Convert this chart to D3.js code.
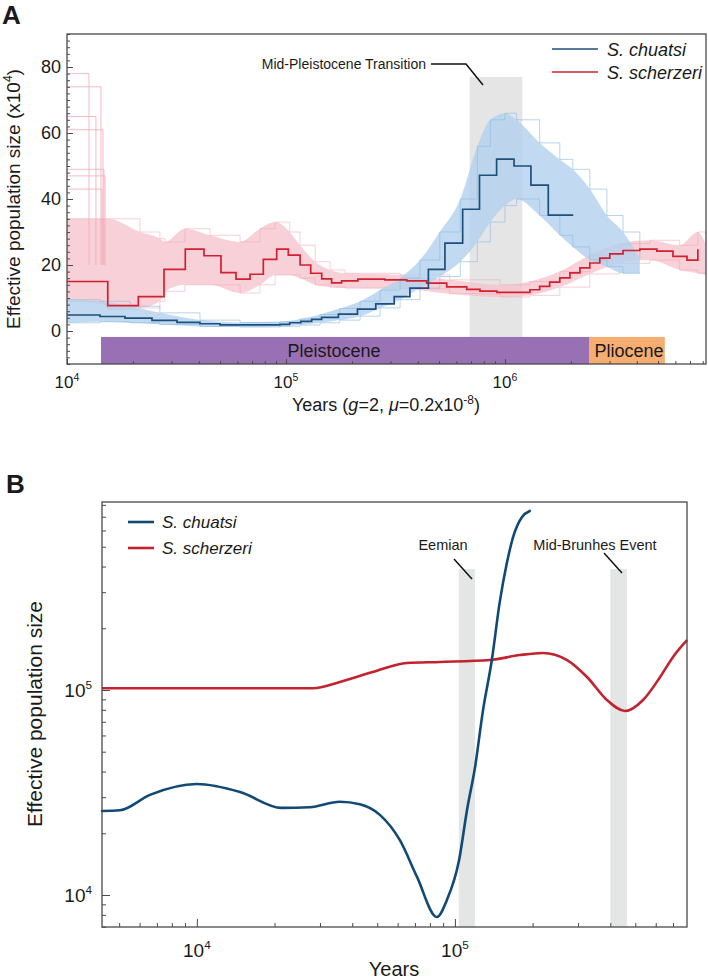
<!DOCTYPE html>
<html><head><meta charset="utf-8">
<script src="https://cdn.jsdelivr.net/npm/d3@7"></script>
<style>
body{margin:0;background:#fff}
svg{display:block}
text{font-family:"Liberation Sans",Arial,Helvetica,sans-serif;fill:#1a1a1a}
</style>
</head><body>
<svg id="c" width="708" height="980"></svg>
<script>
// ---------------- Panel A data (PSMC, Ne in x10^4) ----------------
const aRedYears = [10000,15350,21170,27730,34690,42230,50470,59110,68500,78800,90700,102500,116000,129700,145600,161600,179500,213000,283000,356000,439000,542000,669000,769000,919000,1300000,1440000,1600000,1780000,1980000,2200000,2440000,2710000,3010000,3460000,4130000,4940000,5850000,6780000,7600000];
const aRedNe    = [15,7.7,10.4,18.7,24.8,22.8,17.7,15.7,17.2,21.7,24.8,23,20,17.5,15.8,14.6,15.2,15.7,15.5,15.2,14.5,13.4,12.6,12.1,11.7,12.5,13.5,14.8,16.1,17.6,19.1,20.6,22.1,23.4,24.4,24.8,24.2,22.6,21.5,24.8];
const aBlueYears = [10000,14150,18400,24440,31790,40480,49950,93900,104000,117000,131000,145500,173500,212000,257000,312000,368000,447000,532000,641000,765000,916000,1100000,1314000,1577000,2050000];
const aBlueNe    = [4.85,4.4,3.9,3.2,2.6,2.2,1.85,2.0,2.5,2.9,3.5,4.15,5.1,6.6,8.2,10.4,13.0,18.7,26.6,36.9,47.2,52.1,50.0,44.2,35.1,35.1];

// bootstrap envelopes
const pinkYears = [10000,14750,15390,21540,26560,28000,34560,45000,61700,76000,89200,104000,115800,136000,159000,186000,332000,559000,950000,1300000,1780000,2440000,3340000,4590000,6280000,7600000,8280000];
const pinkUpper = [34,34,34,30,28,27,31,29,27,31,33,30,26,21,18.5,17.5,17,15.5,14,15,18,23,26.5,27.5,26,30,26];
const pinkLower = [9,8,6.5,7,9,12,14,14,11.5,14,17,17,16,14,13.3,13,12.8,11.3,10.3,10.8,13.3,17.3,20.5,21.5,18.5,17.5,17];
const pinkSpikeNe  = [78,74,65,61,49,47,43];
const pinkSpikeEnd = [12600,14290,13560,14600,14750,14920,14450];

const blueYears = [10000,14150,19400,26560,40480,61700,93900,115800,143000,176000,218000,269000,332000,409000,504000,625000,748000,857000,1000000,1130000,1440000,1780000,2040000,2440000,2920000,3460000,4130000];
const blueUpper = [9.5,9,7.5,5.5,3.3,2.6,2.8,3.6,5,6.8,9,12.4,16,21.5,30,40,56,64,66,64,57,52,49,43,35,30,22];
const blueLower = [2.5,2.8,2.5,2.0,1.4,1.2,1.4,1.8,2.5,3.3,4.5,7,9.5,13,16.5,21,27,33,38,40,35,29,25.5,21.5,19.5,17.5,17.5];

const aEpochs = [{name:"Pleistocene", from:14300, to:2420000, color:"#9a70b4"},
                 {name:"Pliocene", from:2420000, to:5370000, color:"#f5ad72"}];
const aMPT = [690000, 1200000];

const aXTicks = [1e4,1e5,1e6];
const aYTicks = [0,20,40,60,80];

// ---------------- Panel B data (SMC++) ----------------
const bBlueYears = [4290,5030,6580,10000,14700,21300,27400,35800,42800,51200,61200,71300,85100,93100,103800,111400,119700,128500,139000,149000,159000,168000,182000,195000];
const bBlueNe    = [25700,25900,30800,34800,31800,26600,26800,28500,27700,24600,18500,12250,7810,9460,14800,26000,42100,79800,140000,266000,417000,557000,698000,747000];
const bRedYears = [4290,28200,35800,48000,65200,87500,136700,178700,219000,272000,325000,388000,456000,536000,624000,700000,793000];
const bRedNe    = [102000,102000,109400,122400,135500,137000,140000,148000,151500,140000,115700,89400,79000,89400,115700,145000,175000];
const bBands = [{name:"Eemian", from:103600, to:119500}, {name:"Mid-Brunhes Event", from:400000, to:464000}];
const bXTicks = [1e4,1e5];
const bYTicks = [1e4,1e5];

const species = ["S. chuatsi","S. scherzeri"];

// ---------------- drawing ----------------
const svg = d3.select("#c");
const FRAME = "#4a4a4a";

function supText(g, x, y, base, exp, size, anchor){
  const t = g.append("text").attr("x",x).attr("y",y).attr("font-size",size).attr("text-anchor",anchor||"middle");
  t.append("tspan").text(base);
  t.append("tspan").attr("dy",-size*0.42).attr("font-size",size*0.62).text(exp);
  return t;
}

// ===== Panel A =====
const ax = d3.scaleLog().domain([1e4, 8.28e6]).range([67, 706]);
const ay = d3.scaleLinear().domain([-10, 90]).range([364, 34]);
const A = svg.append("g");

A.append("text").attr("x",2).attr("y",24).attr("font-size",26).attr("font-weight","bold").text("A");

// MPT band
A.append("rect").attr("x",ax(aMPT[0])).attr("width",ax(aMPT[1])-ax(aMPT[0]))
  .attr("y",ay(77)).attr("height",ay(-1.8)-ay(77)).attr("fill","#e5e5e5");

// epochs
aEpochs.forEach(e=>{
  A.append("rect").attr("x",ax(e.from)).attr("width",ax(e.to)-ax(e.from))
   .attr("y",ay(-1.8)).attr("height",ay(-10)-ay(-1.8)).attr("fill",e.color);
});
A.append("text").attr("x",334).attr("y",357).attr("font-size",18).attr("text-anchor","middle").text("Pleistocene");
A.append("text").attr("x",629).attr("y",357).attr("font-size",18).attr("text-anchor","middle").text("Pliocene");

// clouds
const area = (ys, up, lo) => d3.area().x((d,i)=>ax(ys[i])).y0((d,i)=>ay(lo[i])).y1((d,i)=>ay(up[i])).curve(d3.curveMonotoneX)(ys);
const lineXY = (xs, vs, sx, sy, curve) => d3.line().x((d,i)=>sx(xs[i])).y((d,i)=>sy(vs[i])).curve(curve)(xs);

A.append("path").attr("d",area(pinkYears,pinkUpper,pinkLower)).attr("fill","#f6c0ca").attr("opacity",0.75);
A.append("path").attr("d",lineXY(pinkYears,pinkUpper,ax,ay,d3.curveStepAfter)).attr("fill","none").attr("stroke","#f3a9b7").attr("stroke-width",0.8).attr("opacity",0.7);
A.append("path").attr("d",lineXY(pinkYears,pinkLower,ax,ay,d3.curveStepAfter)).attr("fill","none").attr("stroke","#f3a9b7").attr("stroke-width",0.8).attr("opacity",0.7);
pinkSpikeNe.forEach((v,i)=>{
  const xs=[1e4,pinkSpikeEnd[i],pinkSpikeEnd[i]], vs=[v,v,20];
  A.append("path").attr("d",lineXY(xs,vs,ax,ay,d3.curveLinear)).attr("fill","none").attr("stroke","#f3aab8").attr("stroke-width",0.8);
});

A.append("path").attr("d",area(blueYears,blueUpper,blueLower)).attr("fill","#b2d1ee").attr("opacity",0.8);
A.append("path").attr("d",lineXY(blueYears,blueUpper,ax,ay,d3.curveStepAfter)).attr("fill","none").attr("stroke","#8dbbe4").attr("stroke-width",0.8).attr("opacity",0.8);
A.append("path").attr("d",lineXY(blueYears,blueLower,ax,ay,d3.curveStepAfter)).attr("fill","none").attr("stroke","#8dbbe4").attr("stroke-width",0.8).attr("opacity",0.8);

// main lines
A.append("path").attr("d",lineXY(aRedYears,aRedNe,ax,ay,d3.curveStepAfter)).attr("fill","none").attr("stroke","#d12030").attr("stroke-width",1.7);
A.append("path").attr("d",lineXY(aBlueYears,aBlueNe,ax,ay,d3.curveStepAfter)).attr("fill","none").attr("stroke","#1d4f7c").attr("stroke-width",1.7);

// frame
A.append("rect").attr("x",67).attr("y",34).attr("width",706-67).attr("height",364-34)
  .attr("fill","none").attr("stroke",FRAME).attr("stroke-width",1.3);

// axes ticks (inward)
const aMinorX = [];
[1e4,1e5,1e6].forEach(d=>{for(let k=2;k<=9;k++){const v=d*k; if(v<8.28e6) aMinorX.push(v);}});
A.append("g").attr("transform","translate(0,364)").call(d3.axisBottom(ax).tickValues(aMinorX).tickSize(-3).tickFormat(""))
  .call(g=>{g.select(".domain").remove(); g.selectAll("line").attr("stroke",FRAME);});
A.append("g").attr("transform","translate(0,364)").call(d3.axisBottom(ax).tickValues(aXTicks).tickSize(-5).tickFormat(""))
  .call(g=>{g.select(".domain").remove(); g.selectAll("line").attr("stroke",FRAME);});
aXTicks.forEach(v=>supText(A, ax(v), 388, "10", String(Math.round(Math.log10(v))), 17));

const aMinorY = d3.range(-10, 91, 2);
A.append("g").attr("transform","translate(67,0)").call(d3.axisLeft(ay).tickValues(aMinorY).tickSize(-3).tickFormat(""))
  .call(g=>{g.select(".domain").remove(); g.selectAll("line").attr("stroke",FRAME);});
A.append("g").attr("transform","translate(67,0)").call(d3.axisLeft(ay).tickValues(aYTicks).tickSize(-6).tickFormat(""))
  .call(g=>{g.select(".domain").remove(); g.selectAll("line").attr("stroke",FRAME);});
aYTicks.forEach(v=>A.append("text").attr("x",61).attr("y",ay(v)+6).attr("font-size",18).attr("text-anchor","end").text(v));

// axis labels
const aYl = A.append("text").attr("transform","translate(20,199) rotate(-90)").attr("font-size",19).attr("text-anchor","middle");
aYl.append("tspan").text("Effective population size (x10");
aYl.append("tspan").attr("dy",-8).attr("font-size",12).text("4");
aYl.append("tspan").attr("dy",8).text(")");

const aXl = A.append("text").attr("x",386).attr("y",411).attr("font-size",18).attr("text-anchor","middle");
aXl.append("tspan").text("Years (");
aXl.append("tspan").attr("font-style","italic").text("g");
aXl.append("tspan").text("=2, ");
aXl.append("tspan").attr("font-style","italic").text("μ");
aXl.append("tspan").text("=0.2x10");
aXl.append("tspan").attr("dy",-7).attr("font-size",12).text("-8");
aXl.append("tspan").attr("dy",7).text(")");

// MPT annotation
A.append("text").attr("x",426).attr("y",69).attr("font-size",14).attr("text-anchor","end").text("Mid-Pleistocene Transition");
A.append("path").attr("d","M431,64 L466,64 L483,85").attr("fill","none").attr("stroke","#111").attr("stroke-width",1.5);

// legend A
const aCols = ["#1d4f7c","#d12030"];
species.forEach((s,i)=>{
  const y = 49 + i*23;
  A.append("line").attr("x1",552).attr("x2",598).attr("y1",y).attr("y2",y).attr("stroke",aCols[i]).attr("stroke-width",1.6);
  A.append("text").attr("x",607).attr("y",y+7).attr("font-size",18).attr("font-style","italic").text(s);
});

// ===== Panel B =====
const bx = d3.scaleLog().domain([4290, 7.93e5]).range([102, 687]);
const by = d3.scaleLog().domain([6980, 8.26e5]).range([927, 502]);
const B = svg.append("g");
B.append("text").attr("x",6).attr("y",493).attr("font-size",26).attr("font-weight","bold").text("B");

bBands.forEach(b=>{
  B.append("rect").attr("x",bx(b.from)).attr("width",bx(b.to)-bx(b.from))
   .attr("y",by(3.89e5)).attr("height",927-by(3.89e5)).attr("fill","#e4e6e6");
});
B.append("text").attr("x",443).attr("y",550).attr("font-size",14.5).attr("text-anchor","middle").text("Eemian");
B.append("text").attr("x",595).attr("y",550).attr("font-size",14.5).attr("text-anchor","middle").text("Mid-Brunhes Event");
B.append("line").attr("x1",454).attr("y1",559).attr("x2",472).attr("y2",579).attr("stroke","#111").attr("stroke-width",1.5);
B.append("line").attr("x1",604).attr("y1",553).attr("x2",622).attr("y2",573).attr("stroke","#111").attr("stroke-width",1.5);

B.append("path").attr("d",lineXY(bRedYears,bRedNe,bx,by,d3.curveMonotoneX)).attr("fill","none").attr("stroke","#c3222f").attr("stroke-width",2.6);
B.append("path").attr("d",lineXY(bBlueYears,bBlueNe,bx,by,d3.curveMonotoneX)).attr("fill","none").attr("stroke","#114a75").attr("stroke-width",2.6).attr("stroke-linecap","round");

B.append("rect").attr("x",102).attr("y",502).attr("width",687-102).attr("height",927-502)
  .attr("fill","none").attr("stroke",FRAME).attr("stroke-width",1.3);

const bMinorX=[]; [1e3,1e4,1e5].forEach(d=>{for(let k=2;k<=9;k++){const v=d*k; if(v>4290&&v<7.93e5) bMinorX.push(v);}});
B.append("g").attr("transform","translate(0,927)").call(d3.axisBottom(bx).tickValues(bMinorX).tickSize(-4).tickFormat(""))
  .call(g=>{g.select(".domain").remove(); g.selectAll("line").attr("stroke",FRAME);});
B.append("g").attr("transform","translate(0,927)").call(d3.axisBottom(bx).tickValues(bXTicks).tickSize(-8).tickFormat(""))
  .call(g=>{g.select(".domain").remove(); g.selectAll("line").attr("stroke",FRAME);});
bXTicks.forEach(v=>supText(B, bx(v), 957, "10", String(Math.round(Math.log10(v))), 19));

const bMinorY=[]; [1e3,1e4,1e5].forEach(d=>{for(let k=2;k<=9;k++){const v=d*k; if(v>6980&&v<8.26e5) bMinorY.push(v);}});
B.append("g").attr("transform","translate(102,0)").call(d3.axisLeft(by).tickValues(bMinorY).tickSize(-4).tickFormat(""))
  .call(g=>{g.select(".domain").remove(); g.selectAll("line").attr("stroke",FRAME);});
B.append("g").attr("transform","translate(102,0)").call(d3.axisLeft(by).tickValues(bYTicks).tickSize(-8).tickFormat(""))
  .call(g=>{g.select(".domain").remove(); g.selectAll("line").attr("stroke",FRAME);});
bYTicks.forEach(v=>supText(B, 92, by(v)+7, "10", String(Math.round(Math.log10(v))), 19, "end"));

B.append("text").attr("transform","translate(42,714) rotate(-90)").attr("font-size",21).attr("text-anchor","middle").text("Effective population size");
B.append("text").attr("x",394).attr("y",976).attr("font-size",20).attr("text-anchor","middle").text("Years");

const bCols = ["#114a75","#c3222f"];
species.forEach((s,i)=>{
  const y = 522 + i*26;
  B.append("line").attr("x1",128).attr("x2",154).attr("y1",y).attr("y2",y).attr("stroke",bCols[i]).attr("stroke-width",2.6);
  B.append("text").attr("x",162).attr("y",y+6).attr("font-size",17).attr("font-style","italic").text(s);
});
</script>
</body></html>
